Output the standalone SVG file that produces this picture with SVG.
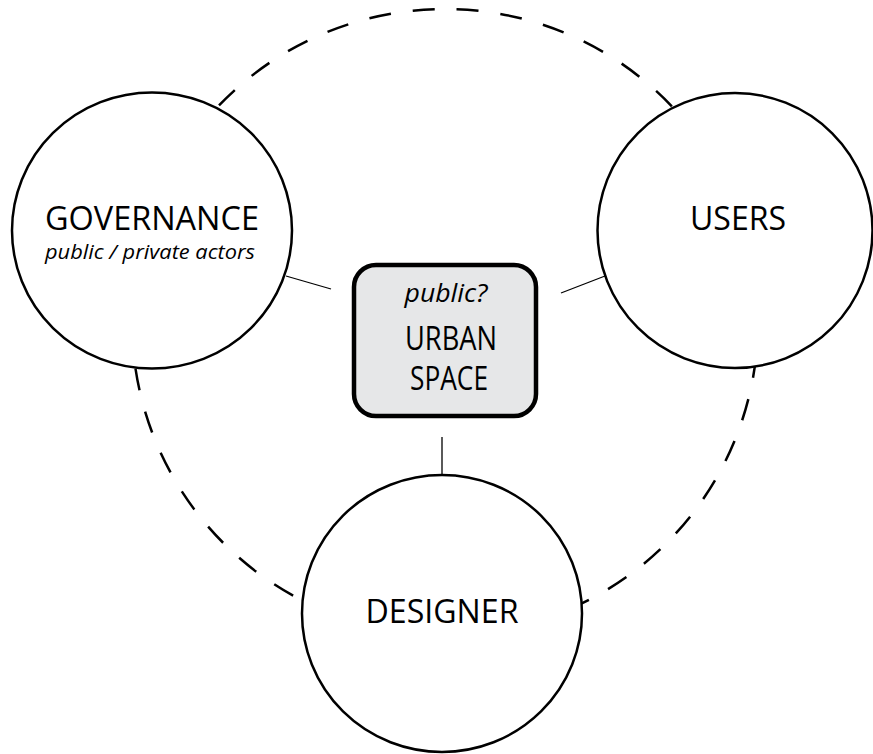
<svg xmlns="http://www.w3.org/2000/svg" width="873" height="754" viewBox="0 0 873 754">
<style>
.node{fill:#fff;stroke:#000;stroke-width:2.5}
.ring{fill:none;stroke:#000;stroke-width:2.5;stroke-dasharray:22 22;stroke-dashoffset:10}
.link{stroke:#000;stroke-width:1.3;fill:none}
.box{fill:#e6e7e8;stroke:#000;stroke-width:4.5}
.t{font-family:"Open Sans","Liberation Sans",sans-serif;font-size:32px;fill:#000;text-anchor:middle}
.i{font-family:"Open Sans","Liberation Sans",sans-serif;font-style:italic;fill:#000;text-anchor:middle}
</style>
<rect width="873" height="754" fill="#fff"/>
<g id="connectors">
<circle class="ring" cx="445" cy="322" r="313"/>
<line class="link" x1="286" y1="276" x2="331" y2="289"/>
<line class="link" x1="561" y1="293" x2="605" y2="276"/>
<line class="link" x1="442" y1="437" x2="442" y2="475"/>
</g>
<g id="governance">
<ellipse class="node" cx="152" cy="230.5" rx="140" ry="138"/>
<text class="t" x="152" y="230" textLength="214" lengthAdjust="spacingAndGlyphs">GOVERNANCE</text>
<text class="i" x="150" y="259" font-size="20" textLength="210" lengthAdjust="spacingAndGlyphs">public / private actors</text>
</g>
<g id="users">
<ellipse class="node" cx="735" cy="230.5" rx="137.5" ry="137.5"/>
<text class="t" x="738" y="230" textLength="96" lengthAdjust="spacingAndGlyphs">USERS</text>
</g>
<g id="designer">
<ellipse class="node" cx="442" cy="613.5" rx="140" ry="138.5"/>
<text class="t" x="442" y="623" textLength="153" lengthAdjust="spacingAndGlyphs">DESIGNER</text>
</g>
<g id="urban-space">
<rect class="box" x="354" y="265" width="182" height="151" rx="22" ry="22"/>
<text class="i" x="446" y="302" font-size="26" textLength="83" lengthAdjust="spacingAndGlyphs">public?</text>
<text class="t" x="451" y="350" textLength="92" lengthAdjust="spacingAndGlyphs">URBAN</text>
<text class="t" x="449" y="390" textLength="78" lengthAdjust="spacingAndGlyphs">SPACE</text>
</g>
</svg>
